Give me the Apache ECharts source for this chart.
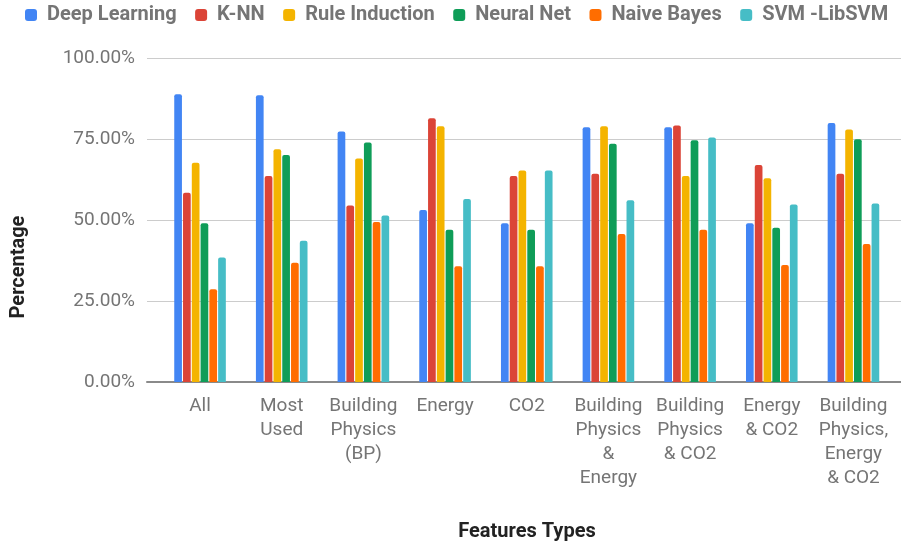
<!DOCTYPE html>
<html>
<head>
<meta charset="utf-8">
<script src="https://cdn.jsdelivr.net/npm/echarts@6/dist/echarts.min.js"></script>
<style>
html,body{margin:0;padding:0;background:#fff;}
#chart{width:901px;height:545px;}
</style>
</head>
<body>
<div id="chart"></div>
<script>
const categories = ['All','Most Used','Building Physics (BP)','Energy','CO2','Building Physics & Energy','Building Physics & CO2','Energy & CO2','Building Physics, Energy & CO2'];
const tickLabels = ['All','Most\nUsed','Building\nPhysics\n(BP)','Energy','CO2','Building\nPhysics\n&\nEnergy','Building\nPhysics\n& CO2','Energy\n& CO2','Building\nPhysics,\nEnergy\n& CO2'];
const seriesNames = ['Deep Learning','K-NN','Rule Induction','Neural Net','Naive Bayes','SVM -LibSVM'];
const deepLearning = [88.8, 88.5, 77.3, 53.1, 49.0, 78.6, 78.6, 49.0, 79.9];
const knn          = [58.4, 63.6, 54.5, 81.4, 63.6, 64.3, 79.2, 67.0, 64.3];
const ruleInduction= [67.7, 71.8, 69.0, 78.9, 65.3, 78.9, 63.6, 62.9, 77.9];
const neuralNet    = [49.0, 70.1, 73.9, 47.0, 47.0, 73.5, 74.6, 47.6, 74.9];
const naiveBayes   = [28.6, 36.8, 49.4, 35.7, 35.7, 45.7, 47.0, 36.1, 42.6];
const svm          = [38.4, 43.6, 51.4, 56.5, 65.3, 56.1, 75.5, 54.8, 55.1];
const yTicks = [0, 25, 50, 75, 100];
const colors = ['#4285F4','#DB4437','#F4B400','#0F9D58','#FF6D00','#46BDC6'];

const allData = [deepLearning, knn, ruleInduction, neuralNet, naiveBayes, svm];
const font = 'Roboto, "Noto Sans", sans-serif';

const chart = echarts.init(document.getElementById('chart'), null, {renderer:'canvas'});
chart.setOption({
  animation: false,
  color: colors,
  textStyle: {fontFamily: font},
  legend: {
    left: 25, top: 5, padding: 0,
    itemWidth: 12, itemHeight: 12, itemGap: 18.5,
    icon: 'roundRect',
    textStyle: {fontSize: 20, fontWeight: 'bold', color: '#757575', fontFamily: font, padding: [0,0,0,5]},
    data: seriesNames
  },
  grid: [
    {left: 147, right: 0, top: 58, bottom: 163},
    {left: 159.2, right: 6.7, top: 58, bottom: 163}
  ],
  xAxis: [
    {gridIndex: 0, type: 'value', min: 0, max: 1,
     axisLine: {show: true, lineStyle: {color: '#8a8a8a', width: 2}},
     axisTick: {show: false}, axisLabel: {show: false}, splitLine: {show: false}},
    {gridIndex: 1, type: 'category', data: categories,
     axisLine: {show: false}, axisTick: {show: false},
     axisLabel: {
       interval: 0, margin: 12, fontSize: 19, color: '#757575', lineHeight: 24, fontFamily: font,
       formatter: (v, i) => tickLabels[i]
     }}
  ],
  yAxis: [
    {gridIndex: 0, type: 'value', min: 0, max: 100, interval: 25,
     axisLine: {show: false}, axisTick: {show: false},
     axisLabel: {margin: 12, fontSize: 19, color: '#757575', fontFamily: font,
       formatter: v => v.toFixed(2) + '%'},
     splitLine: {show: true, lineStyle: {color: '#cccccc', width: 1}}},
    {gridIndex: 1, type: 'value', min: 0, max: 100, interval: 25, show: false,
     splitLine: {show: false}}
  ],
  series: seriesNames.map((name, k) => ({
    name: name, type: 'bar', xAxisIndex: 1, yAxisIndex: 1,
    data: allData[k],
    barWidth: 7.7, barGap: '14%',
    itemStyle: {color: colors[k], borderRadius: [2,2,0,0]}
  })),
  graphic: [
    {type: 'text', x: 527, y: 532,
     style: {text: 'Features Types', fontSize: 20, fontWeight: 'bold', fill: '#222', fontFamily: font,
       align: 'center', verticalAlign: 'middle'}},
    {type: 'text', x: 19, y: 267, rotation: Math.PI/2,
     style: {text: 'Percentage', fontSize: 20, fontWeight: 'bold', fill: '#222', fontFamily: font,
       align: 'center', verticalAlign: 'middle'}}
  ]
});
</script>
</body>
</html>
